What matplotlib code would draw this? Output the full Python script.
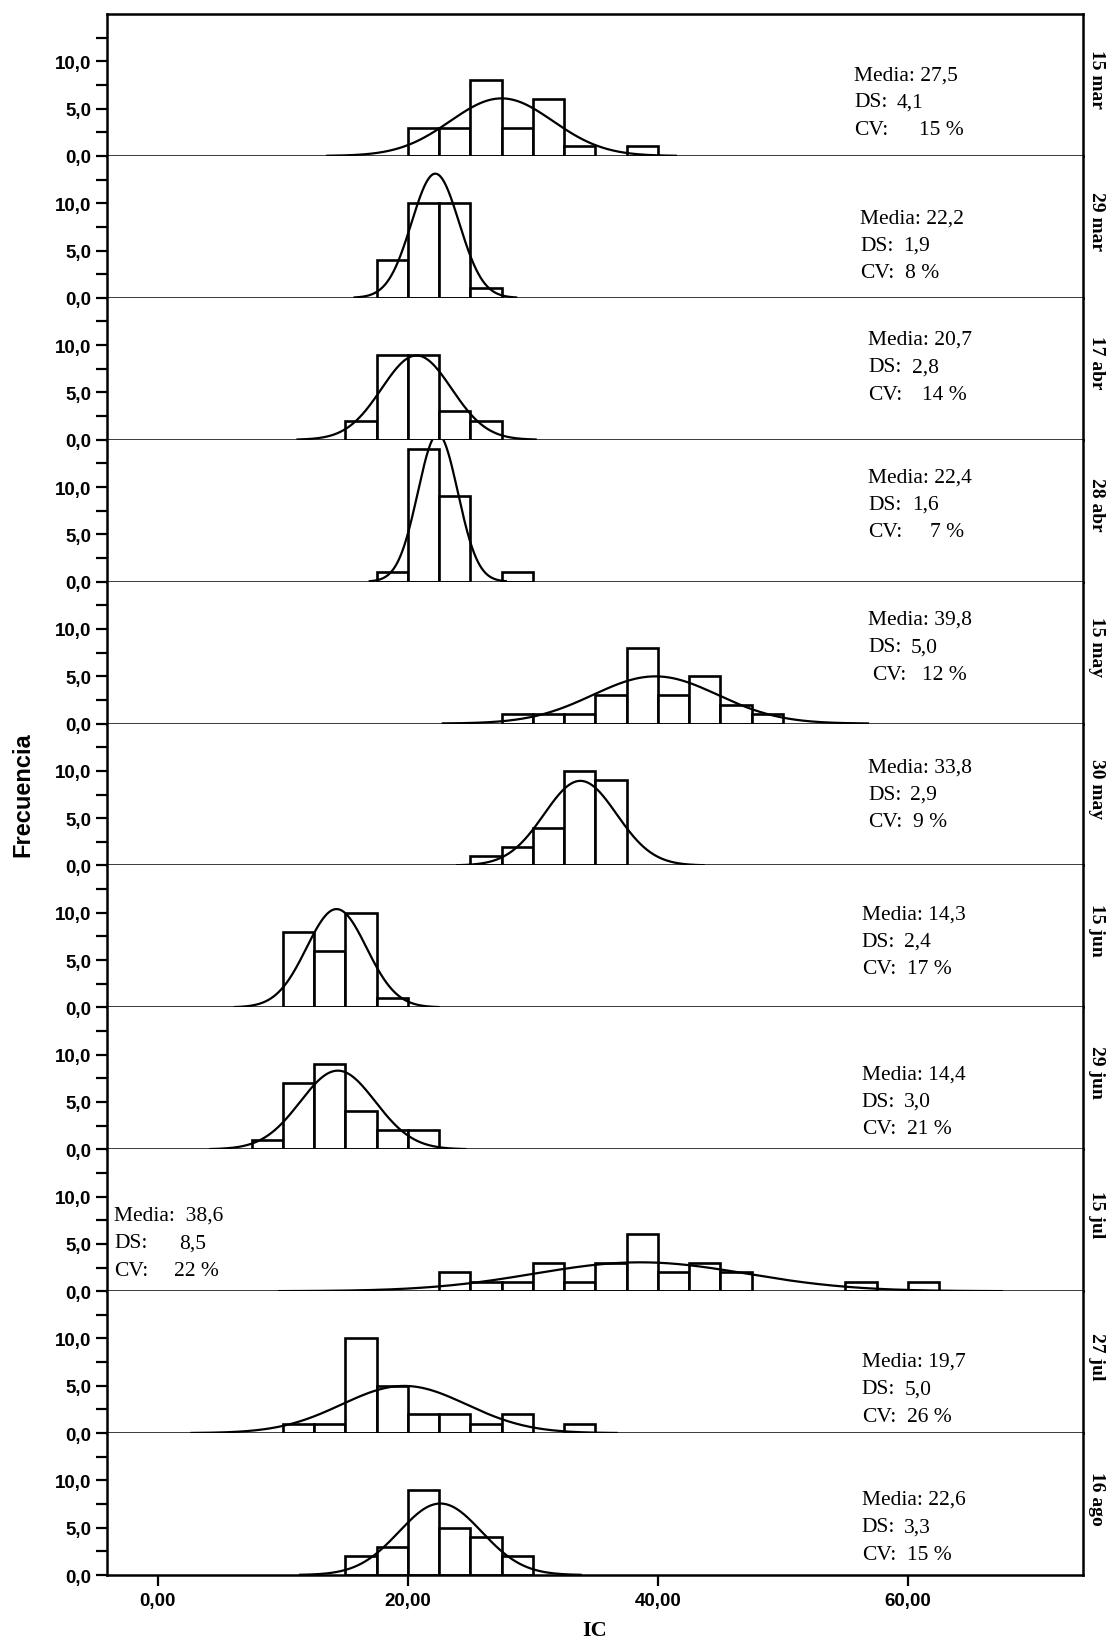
import numpy as np
import matplotlib
matplotlib.use("Agg")
import matplotlib.pyplot as plt

# fechas de muestreo (una fila por fecha)
fechas = ["15 mar", "29 mar", "17 abr", "28 abr", "15 may", "30 may",
          "15 jun", "29 jun", "15 jul", "27 jul", "16 ago"]

# histogramas de IC, clases de 2,5: límite inferior de la primera clase y frecuencias
inicio = [20.0, 17.5, 15.0, 17.5, 27.5, 25.0, 10.0, 7.5, 22.5, 10.0, 15.0]
frec = [
    [3, 3, 8, 3, 6, 1, 0, 1],
    [4, 10, 10, 1],
    [2, 9, 9, 3, 2],
    [1, 14, 9, 0, 1],
    [1, 1, 1, 3, 8, 3, 5, 2, 1],
    [1, 2, 4, 10, 9],
    [8, 6, 10, 1],
    [1, 7, 9, 4, 2, 2],
    [2, 1, 1, 3, 1, 3, 6, 2, 3, 2, 0, 0, 0, 1, 0, 1],
    [1, 1, 10, 5, 2, 2, 1, 2, 0, 1],
    [2, 3, 9, 5, 4, 2],
]
ancho = 2.5

media = [27.5, 22.2, 20.7, 22.4, 39.8, 33.8, 14.3, 14.4, 38.6, 19.7, 22.6]
ds = [4.1, 1.9, 2.8, 1.6, 5.0, 2.9, 2.4, 3.0, 8.5, 5.0, 3.3]
cv = [15, 8, 14, 7, 12, 9, 17, 21, 22, 26, 15]

# posición de los textos (unidades de datos): x etiqueta, desplazamiento de los valores DS y CV,
# y de la primera línea
txt_x = [55.7, 56.2, 56.8, 56.8, 56.8, 56.8, 56.3, 56.3, -3.5, 56.3, 56.3]
off_ds = [3.4, 3.4, 3.5, 3.5, 3.4, 3.4, 3.4, 3.4, 5.2, 3.4, 3.4]
off_cv = [5.2, 3.6, 4.3, 5.0, 4.3, 3.6, 3.6, 3.6, 4.8, 3.6, 3.6]
txt_y = [8.6, 8.45, 10.6, 11.1, 11.0, 10.4, 9.9, 8.0, 8.0, 7.6, 8.0]
sep = [" ", " ", " ", " ", " ", " ", " ", " ", "  ", " ", " "]


def coma(v):
    return f"{v:.1f}".replace(".", ",")


W, H = 1111, 1640
fig = plt.figure(figsize=(W / 100, H / 100), dpi=100)

left = 107 / W
width = (1083 - 107) / W
top = 1 - 15 / H
bottom = 1 - 1576 / H
n = len(fechas)
h = (top - bottom) / n

serif = "Liberation Serif"
sans = "Liberation Sans"

for i in range(n):
    ax = fig.add_axes([left, top - (i + 1) * h, width, h])
    ax.set_xlim(-4.06, 74.0)
    ax.set_ylim(0, 15)

    bordes = inicio[i] + ancho * np.arange(len(frec[i]))
    cuentas = np.array(frec[i])
    m = cuentas > 0
    ax.bar(bordes[m], cuentas[m], width=ancho, align="edge",
           facecolor="white", edgecolor="black", linewidth=1.9, zorder=2)

    # curva normal ajustada
    N = cuentas.sum()
    xs = np.linspace(media[i] - 3.4 * ds[i], media[i] + 3.4 * ds[i], 300)
    ys = N * ancho / (ds[i] * np.sqrt(2 * np.pi)) * np.exp(-0.5 * ((xs - media[i]) / ds[i]) ** 2)
    ax.plot(xs, ys, color="black", linewidth=1.6, zorder=3)

    # estadísticos
    x0, y0 = txt_x[i], txt_y[i]
    kw = dict(fontsize=15.5, family=serif, va="center", ha="left", zorder=4)
    ax.text(x0, y0, "Media:" + sep[i] + coma(media[i]), **kw)
    ax.text(x0, y0 - 2.9, "DS:", **kw)
    ax.text(x0 + off_ds[i], y0 - 2.9, coma(ds[i]), **kw)
    ax.text(x0 + (0.3 if i == 4 else 0), y0 - 5.8, "CV:", **kw)
    ax.text(x0 + off_cv[i], y0 - 5.8, f"{cv[i]} %", **kw)

    # fecha a la derecha
    ax.text(1.014, 8.2 / 15, fechas[i], transform=ax.transAxes, rotation=-90,
            ha="center", va="center", fontsize=14, fontweight="bold", family=serif)

    for s in ax.spines.values():
        s.set_linewidth(1.8)
    if i > 0:
        ax.spines["top"].set_visible(False)

    ax.set_yticks([0, 5, 10])
    ax.set_yticklabels(["0,0", "5,0", "10,0"], fontsize=13.5, fontweight="bold", family=sans)
    ax.set_yticks([2.5, 7.5, 12.5], minor=True)
    ax.tick_params(axis="y", which="both", direction="out", length=8, width=1.6, pad=3)

    if i < n - 1:
        ax.tick_params(axis="x", which="both", bottom=False, labelbottom=False)
    else:
        ax.set_xticks([0, 20, 40, 60])
        ax.set_xticklabels(["0,00", "20,00", "40,00", "60,00"], fontsize=13.5,
                           fontweight="bold", family=sans)
        ax.tick_params(axis="x", direction="out", length=8, width=1.6, pad=4)
        ax.set_xlabel("IC", fontsize=16, fontweight="bold", family=serif, labelpad=8)

fig.text(23 / W, 1 - 795 / H, "Frecuencia", rotation=90, ha="center", va="center",
         fontsize=17, fontweight="bold", family=sans)

fig.savefig("out.png", dpi=100)
